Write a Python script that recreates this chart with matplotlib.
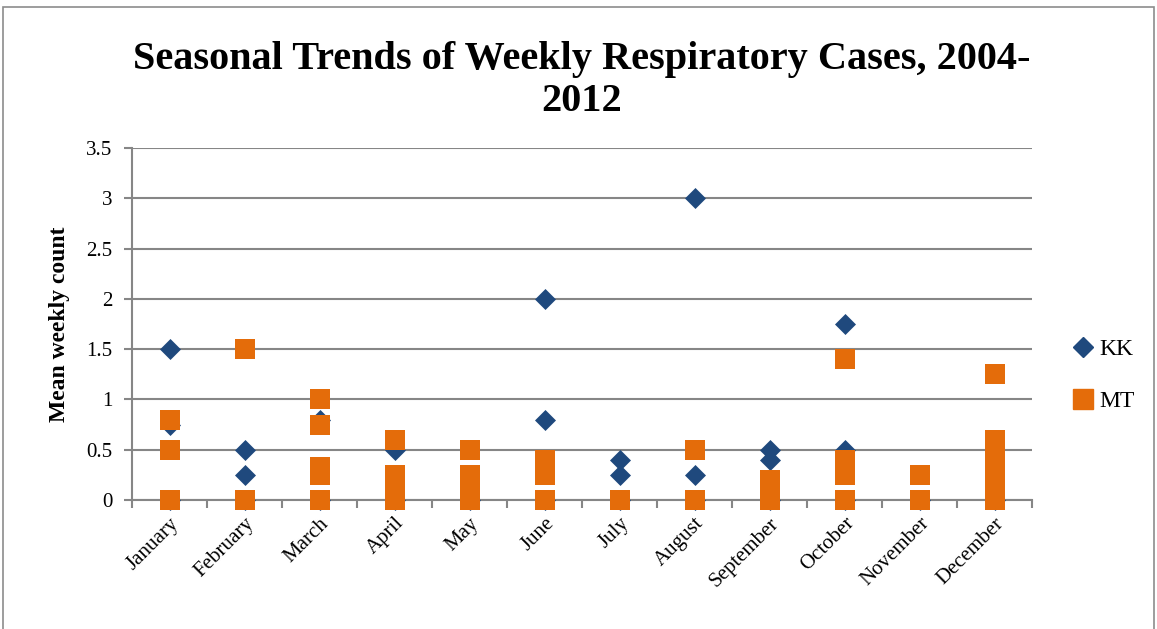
import matplotlib
matplotlib.use("Agg")
import matplotlib.pyplot as plt
from matplotlib.patches import Rectangle
from matplotlib.lines import Line2D

months = ["January", "February", "March", "April", "May", "June",
          "July", "August", "September", "October", "November", "December"]

# KK series: month index and mean weekly count
kk_month = [0, 0, 0, 1, 1, 1, 2, 2, 3, 3, 4, 5, 5, 5, 6, 6, 6,
            7, 7, 7, 8, 8, 8, 9, 9, 9, 10, 11]
kk_value = [1.5, 0.75, 0, 0.5, 0.25, 0, 0.8, 0, 0.5, 0, 0, 2.0, 0.8, 0,
            0.4, 0.25, 0, 3.0, 0.25, 0, 0.5, 0.4, 0, 1.75, 0.5, 0, 0, 0]

# MT series
mt_month = [0, 0, 0, 1, 1, 2, 2, 2, 2, 2, 3, 3, 3, 3, 3, 4, 4, 4, 4,
            5, 5, 5, 5, 6, 7, 7, 8, 8, 8, 9, 9, 9, 9, 9, 10, 10,
            11, 11, 11, 11, 11, 11, 11, 11]
mt_value = [0.8, 0.5, 0, 1.5, 0, 1.0, 0.75, 0.33, 0.25, 0, 0.6, 0.25, 0.2, 0.1, 0,
            0.5, 0.25, 0.2, 0, 0.4, 0.33, 0.25, 0, 0, 0.5, 0, 0.2, 0.1, 0,
            1.4, 0.4, 0.33, 0.25, 0, 0.25, 0,
            1.25, 0.6, 0.5, 0.4, 0.25, 0.2, 0.1, 0]

kk_color = "#1F497D"
mt_color = "#E46C0A"
grid_color = "#868686"
serif = ["Liberation Serif", "DejaVu Serif"]

fig = plt.figure(figsize=(11.57, 6.29), dpi=100)
fig.patches.append(Rectangle((0.003, -0.05), 0.994, 1.039, transform=fig.transFigure,
                             fill=False, edgecolor="#8c8c8c", linewidth=1.2))

ax = fig.add_axes([132 / 1157, 129 / 629, 900 / 1157, 352 / 629])

ax.scatter(kk_month, kk_value, marker="D", s=10.7 ** 2, color=kk_color,
           linewidths=0, zorder=3, clip_on=False)
ax.scatter(mt_month, mt_value, marker="s", s=15 ** 2, color=mt_color,
           linewidths=0, zorder=4, clip_on=False)

ax.set_xlim(-0.5, 11.5)
ax.set_ylim(0, 3.5)
ax.set_yticks([0, 0.5, 1, 1.5, 2, 2.5, 3, 3.5])
ax.set_yticklabels(["0", "0.5", "1", "1.5", "2", "2.5", "3", "3.5"],
                   family=serif, fontsize=15)
ax.set_xticks(range(12))
ax.set_xticklabels(months, rotation=45, ha="right", va="top",
                   rotation_mode="anchor", family=serif, fontsize=15)
ax.set_xticks([i - 0.5 for i in range(13)], minor=True)
ax.tick_params(axis="x", which="major", length=0, pad=10)
ax.tick_params(axis="x", which="minor", length=6, color=grid_color, width=1.5)
ax.tick_params(axis="y", length=6, color=grid_color, width=1.5, pad=8)

ax.grid(axis="y", color=grid_color, linewidth=1.5, zorder=0)
ax.set_axisbelow(True)
for side in ["top", "right"]:
    ax.spines[side].set_visible(False)
for side in ["left", "bottom"]:
    ax.spines[side].set_color(grid_color)
    ax.spines[side].set_linewidth(1.5)

ax.set_ylabel("Mean weekly count", family=serif, fontsize=17, fontweight="bold",
              labelpad=12)

fig.text(0.503, 0.872, "Seasonal Trends of Weekly Respiratory Cases, 2004-\n2012",
         ha="center", va="center", family=serif, fontsize=29, fontweight="bold",
         linespacing=1.2)

handles = [Line2D([], [], linestyle="none", marker="D", markersize=10, color=kk_color),
           Line2D([], [], linestyle="none", marker="s", markersize=14, color=mt_color)]
fig.legend(handles, ["KK", "MT"], loc="center left", bbox_to_anchor=(0.905, 0.403),
           frameon=False, prop={"family": serif, "size": 17}, handletextpad=0.1,
           labelspacing=1.3, handlelength=1.2)

fig.savefig("out.png", dpi=100)
